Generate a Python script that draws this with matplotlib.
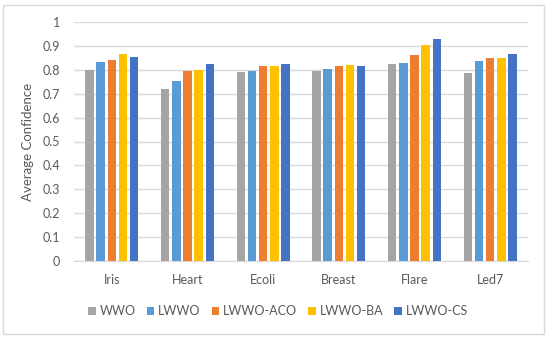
import numpy as np
import matplotlib
matplotlib.use("Agg")
import matplotlib.pyplot as plt
from matplotlib.patches import Rectangle

categories = ["Iris", "Heart", "Ecoli", "Breast", "Flare", "Led7"]
series_names = ["WWO", "LWWO", "LWWO-ACO", "LWWO-BA", "LWWO-CS"]
wwo = [0.800, 0.720, 0.790, 0.797, 0.826, 0.785]
lwwo = [0.832, 0.754, 0.796, 0.804, 0.830, 0.835]
lwwo_aco = [0.843, 0.793, 0.814, 0.817, 0.864, 0.850]
lwwo_ba = [0.865, 0.801, 0.814, 0.821, 0.902, 0.850]
lwwo_cs = [0.853, 0.823, 0.823, 0.817, 0.930, 0.867]
y_ticks = [0, 0.1, 0.2, 0.3, 0.4, 0.5, 0.6, 0.7, 0.8, 0.9, 1]

colors = ["#A5A5A5", "#5B9BD5", "#ED7D31", "#FFC000", "#4472C4"]
all_series = [wwo, lwwo, lwwo_aco, lwwo_ba, lwwo_cs]

plt.rcParams['font.family'] = ['Lato', 'DejaVu Sans']

fig = plt.figure(figsize=(5.5, 3.37), dpi=100)
ax = fig.add_axes([74/550, 1 - 261/337, 454/550, 239/337])

x = np.arange(len(categories))
pitch = 0.148
width = 0.112
for i, (name, vals) in enumerate(zip(series_names, all_series)):
    ax.bar(x + (i - 2) * pitch, vals, width, color=colors[i], label=name, zorder=3)

ax.set_xlim(-0.5, len(categories) - 0.5)
ax.set_ylim(0, 1)
ax.set_yticks(y_ticks)
ax.set_yticklabels([f"{t:g}" for t in y_ticks])
ax.set_xticks(x)
ax.set_xticklabels(categories)
ax.tick_params(axis='both', length=0, labelsize=9, colors="#595959")
ax.tick_params(axis='x', pad=9)
ax.tick_params(axis='y', pad=10)
ax.grid(axis='y', color="#D9D9D9", linewidth=1, zorder=0)
for s in ["top", "right", "left"]:
    ax.spines[s].set_visible(False)
ax.spines["bottom"].set_color("#D9D9D9")
ax.set_ylabel("Average Confidence", fontsize=9.5, color="#595959", labelpad=6)

leg = fig.legend(loc="center", bbox_to_anchor=(278/550, 1 - 311/337), ncol=5,
                 frameon=False, fontsize=9, handlelength=0.6, handleheight=0.6,
                 handletextpad=0.3, columnspacing=0.9, labelcolor="#595959")

fig.patches.append(Rectangle((3/550, 3/337), 541/550, 329/337, transform=fig.transFigure,
                             fill=False, edgecolor="#D9D9D9", linewidth=1))

fig.savefig("out.png", dpi=100)
